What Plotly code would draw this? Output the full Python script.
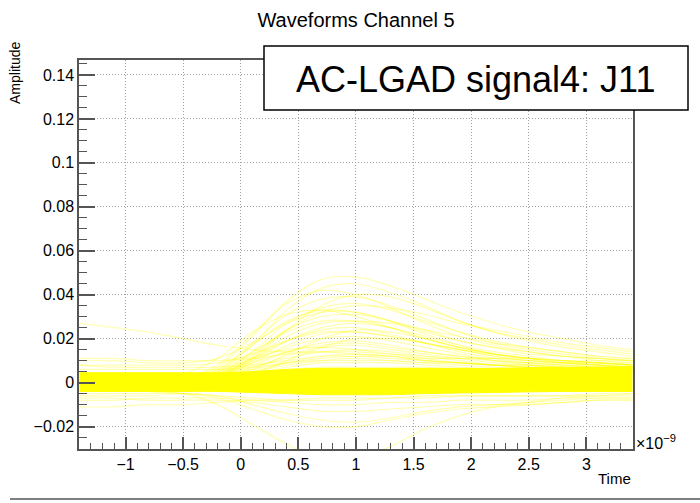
import plotly.graph_objects as go

# Sample times (ns) shared by every waveform
time_ns = [-1.4, -1.1, -0.8, -0.5, -0.2, 0.1, 0.4, 0.7, 1.0, 1.3, 1.6, 1.9, 2.2, 2.5, 2.8, 3.1, 3.4]

# Core of the baseline: envelope of the bulk of the waveforms
band_upper = [0.0045, 0.0045, 0.0045, 0.0045, 0.0045, 0.005, 0.006, 0.0065, 0.0065, 0.0065,
              0.0065, 0.0065, 0.0065, 0.0068, 0.007, 0.0071, 0.0073]
band_lower = [-0.004, -0.004, -0.004, -0.004, -0.004, -0.0045, -0.005, -0.0055, -0.0055, -0.0055,
              -0.005, -0.0047, -0.0045, -0.0042, -0.004, -0.004, -0.004]

# Individual waveforms that stand out from the baseline (amplitude in V)
pulse_01 = [0.000, 0.001, 0.000, 0.002, 0.007, 0.021, 0.037, 0.047, 0.048, 0.044, 0.038, 0.032, 0.027, 0.023, 0.020, 0.017, 0.015]
pulse_02 = [0.001, 0.000, 0.001, 0.001, 0.005, 0.017, 0.033, 0.043, 0.045, 0.041, 0.035, 0.028, 0.023, 0.020, 0.017, 0.015, 0.013]
pulse_03 = [0.000, 0.000, -0.001, 0.002, 0.008, 0.022, 0.036, 0.042, 0.040, 0.034, 0.027, 0.021, 0.017, 0.014, 0.012, 0.011, 0.010]
pulse_04 = [0.001, 0.001, 0.001, 0.002, 0.006, 0.018, 0.031, 0.038, 0.039, 0.035, 0.029, 0.023, 0.019, 0.016, 0.014, 0.012, 0.011]
pulse_05 = [0.000, 0.000, 0.000, 0.001, 0.004, 0.014, 0.027, 0.034, 0.036, 0.033, 0.028, 0.023, 0.018, 0.015, 0.013, 0.011, 0.010]
pulse_06 = [0.002, 0.001, 0.001, 0.002, 0.006, 0.017, 0.028, 0.033, 0.032, 0.028, 0.022, 0.017, 0.013, 0.011, 0.010, 0.009, 0.008]
pulse_07 = [0.000, 0.000, 0.000, 0.001, 0.004, 0.013, 0.024, 0.030, 0.031, 0.028, 0.024, 0.019, 0.016, 0.013, 0.012, 0.010, 0.009]
pulse_08 = [0.001, 0.000, 0.000, 0.001, 0.005, 0.014, 0.023, 0.028, 0.028, 0.025, 0.020, 0.016, 0.013, 0.011, 0.009, 0.008, 0.007]
pulse_09 = [0.000, 0.001, 0.000, 0.001, 0.003, 0.010, 0.019, 0.025, 0.027, 0.025, 0.021, 0.017, 0.014, 0.012, 0.010, 0.009, 0.008]
pulse_10 = [0.001, 0.001, 0.001, 0.002, 0.004, 0.011, 0.019, 0.024, 0.025, 0.022, 0.018, 0.014, 0.011, 0.009, 0.008, 0.007, 0.007]
pulse_11 = [0.000, 0.000, 0.000, 0.001, 0.003, 0.009, 0.017, 0.022, 0.023, 0.021, 0.018, 0.015, 0.012, 0.010, 0.009, 0.008, 0.007]
pulse_12 = [0.001, 0.000, 0.000, 0.001, 0.004, 0.010, 0.016, 0.020, 0.021, 0.019, 0.016, 0.013, 0.010, 0.009, 0.008, 0.007, 0.006]
pulse_13 = [0.000, 0.000, 0.001, 0.001, 0.003, 0.008, 0.014, 0.018, 0.019, 0.017, 0.014, 0.012, 0.010, 0.008, 0.007, 0.006, 0.006]
pulse_14 = [0.000, 0.001, 0.000, 0.001, 0.002, 0.007, 0.012, 0.016, 0.017, 0.015, 0.013, 0.011, 0.009, 0.008, 0.007, 0.006, 0.006]
pulse_15 = [0.001, 0.000, 0.000, 0.001, 0.003, 0.007, 0.011, 0.014, 0.015, 0.014, 0.012, 0.010, 0.008, 0.007, 0.006, 0.006, 0.005]
pulse_16 = [0.000, 0.000, 0.000, 0.001, 0.002, 0.005, 0.009, 0.012, 0.013, 0.012, 0.010, 0.009, 0.008, 0.007, 0.006, 0.005, 0.005]
pulse_17 = [0.000, 0.000, 0.001, 0.001, 0.002, 0.005, 0.008, 0.010, 0.011, 0.010, 0.009, 0.008, 0.007, 0.006, 0.006, 0.005, 0.005]
pulse_18 = [0.000, 0.000, 0.000, 0.000, 0.002, 0.006, 0.013, 0.020, 0.024, 0.023, 0.020, 0.016, 0.013, 0.011, 0.009, 0.008, 0.007]
pulse_19 = [0.001, 0.001, 0.002, 0.004, 0.011, 0.023, 0.031, 0.033, 0.030, 0.025, 0.020, 0.016, 0.013, 0.011, 0.010, 0.009, 0.008]
pulse_20 = [0.000, 0.000, 0.000, 0.001, 0.003, 0.011, 0.024, 0.035, 0.040, 0.039, 0.034, 0.028, 0.023, 0.019, 0.016, 0.014, 0.012]
pulse_21 = [0.000, 0.000, 0.000, 0.001, 0.002, 0.004, 0.007, 0.009, 0.009, 0.009, 0.008, 0.007, 0.006, 0.006, 0.005, 0.005, 0.005]
pulse_22 = [0.001, 0.001, 0.001, 0.002, 0.005, 0.011, 0.015, 0.016, 0.015, 0.013, 0.011, 0.009, 0.008, 0.007, 0.007, 0.006, 0.006]
pulse_23 = [0.000, 0.000, 0.000, 0.000, 0.001, 0.004, 0.010, 0.016, 0.020, 0.020, 0.018, 0.015, 0.012, 0.010, 0.009, 0.008, 0.007]
pulse_24 = [0.001, 0.001, 0.001, 0.001, 0.003, 0.006, 0.009, 0.011, 0.012, 0.011, 0.010, 0.009, 0.008, 0.008, 0.007, 0.007, 0.007]
pulse_25 = [0.000, 0.000, 0.000, 0.001, 0.003, 0.011, 0.021, 0.027, 0.028, 0.027, 0.024, 0.021, 0.018, 0.016, 0.014, 0.012, 0.011]
pulse_26 = [0.001, 0.001, 0.001, 0.001, 0.002, 0.004, 0.006, 0.007, 0.007, 0.007, 0.007, 0.006, 0.006, 0.006, 0.006, 0.006, 0.006]
pulse_27 = [0.000, 0.001, 0.001, 0.001, 0.003, 0.009, 0.014, 0.017, 0.018, 0.016, 0.014, 0.012, 0.011, 0.010, 0.009, 0.009, 0.008]
pulse_28 = [0.001, 0.001, 0.000, 0.001, 0.003, 0.012, 0.024, 0.032, 0.035, 0.034, 0.031, 0.027, 0.024, 0.021, 0.018, 0.016, 0.014]
drift_01 = [0.027, 0.025, 0.023, 0.020, 0.017, 0.015, 0.014, 0.014, 0.013, 0.012, 0.010, 0.009, 0.008, 0.007, 0.007, 0.006, 0.006]
drift_02 = [0.010, 0.010, 0.009, 0.009, 0.011, 0.018, 0.027, 0.032, 0.032, 0.028, 0.023, 0.019, 0.016, 0.014, 0.012, 0.011, 0.010]
drift_03 = [0.008, 0.008, 0.008, 0.008, 0.009, 0.013, 0.019, 0.023, 0.023, 0.021, 0.018, 0.015, 0.013, 0.011, 0.010, 0.009, 0.009]
drift_04 = [0.011, 0.011, 0.010, 0.010, 0.010, 0.011, 0.013, 0.014, 0.014, 0.013, 0.012, 0.011, 0.010, 0.009, 0.009, 0.009, 0.008]
edge_01 = [0.006, 0.006, 0.006, 0.006, 0.006, 0.007, 0.009, 0.010, 0.010, 0.010, 0.009, 0.009, 0.008, 0.008, 0.008, 0.008, 0.008]
edge_02 = [-0.006, -0.006, -0.006, -0.005, -0.006, -0.007, -0.008, -0.008, -0.008, -0.007, -0.007, -0.006, -0.006, -0.006, -0.006, -0.006, -0.006]
edge_03 = [0.008, 0.007, 0.007, 0.007, 0.007, 0.008, 0.010, 0.012, 0.012, 0.012, 0.011, 0.011, 0.011, 0.011, 0.010, 0.010, 0.010]
edge_04 = [-0.008, -0.008, -0.007, -0.007, -0.007, -0.008, -0.009, -0.010, -0.010, -0.009, -0.009, -0.008, -0.008, -0.008, -0.007, -0.007, -0.007]
neg_01 = [-0.003, -0.003, -0.004, -0.005, -0.010, -0.019, -0.028, -0.035, -0.035, -0.029, -0.021, -0.015, -0.011, -0.009, -0.007, -0.006, -0.005]
neg_02 = [-0.004, -0.004, -0.004, -0.005, -0.006, -0.010, -0.014, -0.017, -0.018, -0.016, -0.013, -0.011, -0.010, -0.009, -0.008, -0.007, -0.007]
neg_03 = [-0.007, -0.007, -0.008, -0.008, -0.008, -0.009, -0.011, -0.013, -0.013, -0.012, -0.011, -0.010, -0.010, -0.010, -0.009, -0.008, -0.008]
neg_04 = [-0.011, -0.011, -0.010, -0.010, -0.009, -0.008, -0.008, -0.007, -0.007, -0.007, -0.006, -0.006, -0.006, -0.006, -0.006, -0.005, -0.005]
neg_05 = [-0.005, -0.005, -0.005, -0.005, -0.007, -0.012, -0.017, -0.020, -0.020, -0.017, -0.014, -0.012, -0.011, -0.010, -0.009, -0.008, -0.008]

waveforms = [pulse_01, pulse_02, pulse_03, pulse_04, pulse_05, pulse_06, pulse_07, pulse_08,
             pulse_09, pulse_10, pulse_11, pulse_12, pulse_13, pulse_14, pulse_15, pulse_16,
             pulse_17, pulse_18, pulse_19, pulse_20, pulse_21, pulse_22, pulse_23, pulse_24,
             pulse_25, pulse_26, pulse_27, pulse_28, drift_01, drift_02, drift_03, drift_04,
             edge_01, edge_02, edge_03, edge_04, neg_01, neg_02, neg_03, neg_04, neg_05]

title_text = "Waveforms Channel 5"
label_text = "AC-LGAD signal4: J11"
x_title = "Time"
y_title = "Amplitude"

FONT = "Liberation Sans, Arial, Helvetica, sans-serif"
AXIS_COLOR = "#555555"
GRID_COLOR = "#a0a0a0"

fig = go.Figure()

for wf in waveforms:
    fig.add_trace(go.Scatter(
        x=time_ns, y=wf, mode="lines",
        line=dict(color="rgba(255,255,0,0.3)", width=1.2, shape="spline", smoothing=1),
        hoverinfo="skip", showlegend=False,
    ))

# Saturated baseline band where the traces pile up
fig.add_trace(go.Scatter(
    x=time_ns, y=band_lower, mode="lines",
    line=dict(color="#ffff00", width=1, shape="spline"),
    hoverinfo="skip", showlegend=False,
))
fig.add_trace(go.Scatter(
    x=time_ns, y=band_upper, mode="lines", fill="tonexty", fillcolor="#ffff00",
    line=dict(color="#ffff00", width=1, shape="spline"),
    hoverinfo="skip", showlegend=False,
))

W, H = 700, 503
L, R, T, B = 79, 67, 60, 54
pw, ph = W - L - R, H - T - B


def px_x(x):
    return (x - L) / pw


def px_y(y):
    return (H - B - y) / ph


fig.update_layout(
    width=W, height=H,
    margin=dict(l=L, r=R, t=T, b=B),
    paper_bgcolor="white", plot_bgcolor="white",
    font=dict(family=FONT, color="black"),
    title=dict(text=title_text, x=0.5, xref="paper", xanchor="center",
               y=1 - 20 / H, yref="container", yanchor="middle",
               font=dict(size=20, family=FONT, color="black")),
    xaxis=dict(
        range=[-1.404, 3.405], dtick=0.5, tick0=0,
        showline=True, linecolor=AXIS_COLOR, linewidth=1.5, mirror=True,
        ticks="inside", ticklen=12, tickwidth=1.5, tickcolor=AXIS_COLOR,
        minor=dict(dtick=0.1, ticks="inside", ticklen=6, tickwidth=1, tickcolor=AXIS_COLOR, showgrid=False),
        showgrid=True, gridcolor=GRID_COLOR, gridwidth=1, griddash="1px,2px",
        zeroline=False, tickfont=dict(size=16, family=FONT, color="black"),
    ),
    yaxis=dict(
        range=[-0.0302, 0.1468], dtick=0.02, tick0=0,
        showline=True, linecolor=AXIS_COLOR, linewidth=1.5, mirror=True,
        ticks="inside", ticklen=16, tickwidth=1.5, tickcolor=AXIS_COLOR,
        minor=dict(dtick=0.005, ticks="inside", ticklen=8, tickwidth=1, tickcolor=AXIS_COLOR, showgrid=False),
        showgrid=True, gridcolor=GRID_COLOR, gridwidth=1, griddash="1px,2px",
        zeroline=False, tickfont=dict(size=16, family=FONT, color="black"),
    ),
)

# Axis titles and exponent label, ROOT style
fig.add_annotation(text=y_title, textangle=-90, xref="paper", yref="paper",
                   x=px_x(15), y=px_y(40), xanchor="center", yanchor="top",
                   showarrow=False, font=dict(size=14, family=FONT, color="black"))
fig.add_annotation(text=x_title, xref="paper", yref="paper",
                   x=1.0, y=px_y(478), xanchor="right", yanchor="middle",
                   showarrow=False, font=dict(size=15, family=FONT, color="black"))
fig.add_annotation(text="×10<sup>−9</sup>", xref="paper", yref="paper",
                   x=px_x(634), y=px_y(442), xanchor="left", yanchor="middle",
                   showarrow=False, font=dict(size=16, family=FONT, color="black"))

# Label box in the upper right
fig.add_shape(type="rect", xref="paper", yref="paper",
              x0=px_x(264), x1=px_x(688), y0=px_y(110), y1=px_y(46),
              fillcolor="white", line=dict(color="black", width=1.5), layer="above")
fig.add_annotation(text=label_text, xref="paper", yref="paper",
                   x=px_x(476), y=px_y(79), xanchor="center", yanchor="middle",
                   showarrow=False, font=dict(size=36, family=FONT, color="black"))

# Separator rule under the plot
fig.add_shape(type="line", xref="paper", yref="paper",
              x0=px_x(10), x1=px_x(700), y0=px_y(499), y1=px_y(499),
              line=dict(color="#555555", width=1.5))

fig.write_html("out.html")
